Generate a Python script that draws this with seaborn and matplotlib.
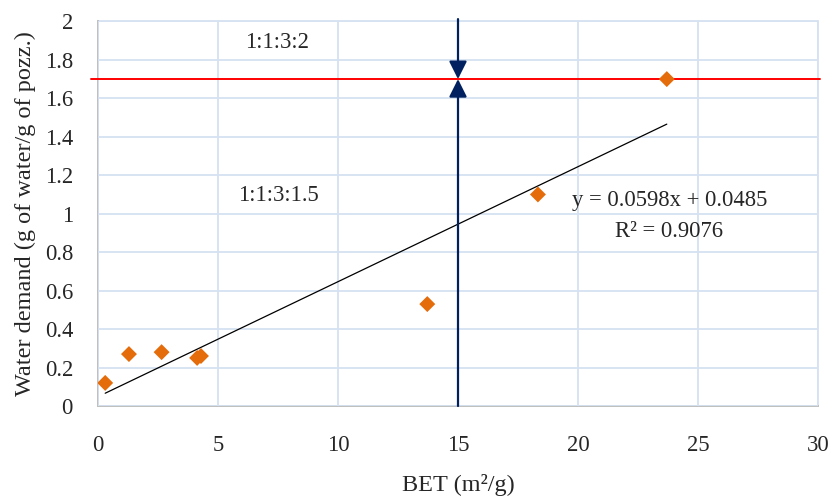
import matplotlib
matplotlib.use("Agg")
import matplotlib.pyplot as plt
import seaborn as sns
import numpy as np
import pandas as pd

# Data
bet = [0.30, 1.29, 2.65, 4.13, 4.29, 13.72, 18.33, 23.70]
water_demand = [0.12, 0.27, 0.28, 0.25, 0.26, 0.53, 1.10, 1.70]
slope = 0.0598
intercept = 0.0485
r2 = 0.9076
limit_y = 1.70
bet_limit = 15.0
x_ticks = [0, 5, 10, 15, 20, 25, 30]
y_ticks = [0, 0.2, 0.4, 0.6, 0.8, 1.0, 1.2, 1.4, 1.6, 1.8, 2.0]
y_tick_labels = ["0", "0.2", "0.4", "0.6", "0.8", "1", "1.2", "1.4", "1.6", "1.8", "2"]

sns.set_style("white")
plt.rcParams["font.family"] = ["Liberation Serif", "DejaVu Serif"]

fs = 16.3
fig = plt.figure(figsize=(8.33, 4.97), dpi=100)
ax = fig.add_axes([98 / 833, 1 - 406 / 497, 720 / 833, (406 - 21.4) / 497])

df = pd.DataFrame({"BET": bet, "WD": water_demand})
trend = pd.DataFrame({"x": [min(bet), max(bet)]})
trend["y"] = slope * trend["x"] + intercept

grid_c = "#D6E2F2"
ax.set_xlim(0, 30)
ax.set_ylim(0, 2)
ax.set_xticks(x_ticks)
ax.set_yticks(y_ticks)
ax.set_yticklabels(y_tick_labels)
ax.grid(True, color=grid_c, lw=1.3)
ax.set_axisbelow(True)
for s in ["top", "right"]:
    ax.spines[s].set_visible(False)
for s in ["left", "bottom"]:
    ax.spines[s].set_color("#BFBFBF")
    ax.spines[s].set_linewidth(1.4)
    ax.spines[s].set_zorder(0.5)
ax.axhline(2, color=grid_c, lw=1.3, zorder=0.4, clip_on=False)
ax.axvline(30, color=grid_c, lw=1.3, zorder=0.4, clip_on=False)

ax.tick_params(axis="both", length=0, labelsize=fs)
ax.tick_params(axis="x", pad=21)
ax.tick_params(axis="y", pad=18)

sns.lineplot(data=trend, x="x", y="y", ax=ax, color="black", lw=0.9, zorder=3)
sns.scatterplot(data=df, x="BET", y="WD", ax=ax, marker="D", s=66,
                color="#E46C0A", edgecolor="none", zorder=5)

ax.plot([-0.3, 30.1], [limit_y, limit_y], color="#FF0000", lw=1.4, clip_on=False, zorder=4)

navy = "#002060"
astyle = "-|>,head_length=0.4,head_width=0.2"
ax.annotate("", xy=(bet_limit, limit_y), xytext=(bet_limit, 2.012),
            arrowprops=dict(arrowstyle=astyle, color=navy, lw=1.6, mutation_scale=27,
                            shrinkA=0, shrinkB=0), annotation_clip=False, zorder=6)
ax.annotate("", xy=(bet_limit, limit_y), xytext=(bet_limit, 0),
            arrowprops=dict(arrowstyle=astyle, color=navy, lw=1.6, mutation_scale=27,
                            shrinkA=0, shrinkB=0), annotation_clip=False, zorder=6)

ax.text(7.45, 1.89, "1:1:3:2", ha="center", va="center", fontsize=fs)
ax.text(7.5, 1.097, "1:1:3:1.5", ha="center", va="center", fontsize=fs)
ax.text(23.8, 1.07, f"y = {slope:.4f}x + {intercept:.4f}", ha="center", va="center", fontsize=fs)
ax.text(23.8, 0.905, f"R² = {r2:.4f}", ha="center", va="center", fontsize=fs)

ax.set_xlabel("BET (m²/g)", fontsize=17.5, labelpad=13)
ax.set_ylabel("Water demand (g of water/g of pozz.)", fontsize=17.5, labelpad=6)

fig.savefig("out.png", dpi=100)
